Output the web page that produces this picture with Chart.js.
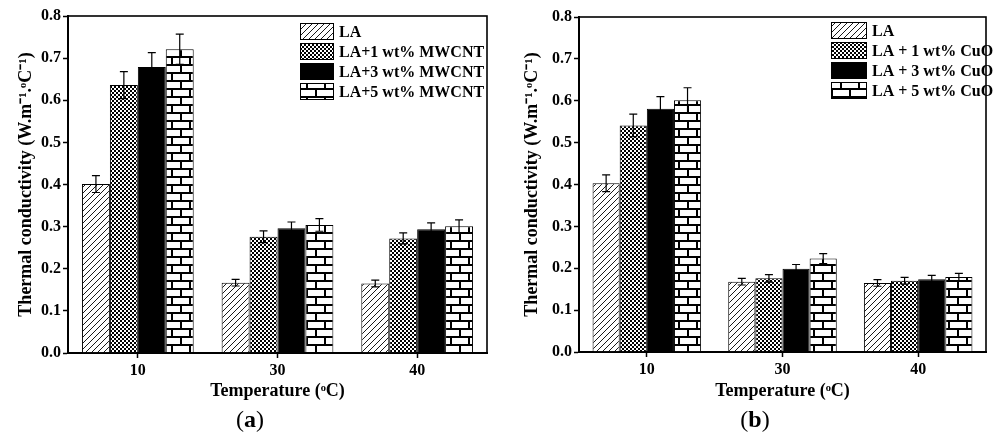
<!DOCTYPE html>
<html>
<head>
<meta charset="utf-8">
<title>Thermal conductivity</title>
<script src="https://cdn.jsdelivr.net/npm/chart.js@4"></script>
<style>
    body { margin: 0; background: #fff; }
    #wrap { position: relative; width: 997px; height: 438px; }
    .panel { position: absolute; top: 0; }
    .cap { position: absolute; top: 406px; width: 100px; text-align: center;
           font-family: "Liberation Serif", serif; font-size: 24px; color: #000; }
</style>
</head>
<body>
<div id="wrap">
    <div class="panel" style="left:0"><canvas id="chartA" width="498" height="410"></canvas></div>
    <div class="panel" style="left:498px"><canvas id="chartB" width="499" height="410"></canvas></div>
    <div class="cap" style="left:200px">(<b>a</b>)</div>
    <div class="cap" style="left:705px">(<b>b</b>)</div>
</div>
<script>
// categories and tick labels
const temperatures = ["10", "30", "40"];
const yTickValues = [0.0, 0.1, 0.2, 0.3, 0.4, 0.5, 0.6, 0.7, 0.8];

// panel (a) - MWCNT
const namesA = ["LA", "LA+1 wt% MWCNT", "LA+3 wt% MWCNT", "LA+5 wt% MWCNT"];
const laA = [0.401, 0.167, 0.165];
const laErrA = [0.020, 0.008, 0.008];
const mwcnt1 = [0.636, 0.276, 0.272];
const mwcnt1Err = [0.032, 0.014, 0.013];
const mwcnt3 = [0.679, 0.296, 0.294];
const mwcnt3Err = [0.034, 0.015, 0.015];
const mwcnt5 = [0.721, 0.304, 0.301];
const mwcnt5Err = [0.036, 0.015, 0.015];

// panel (b) - CuO
const namesB = ["LA", "LA + 1 wt% CuO", "LA + 3 wt% CuO", "LA + 5 wt% CuO"];
const laB = [0.403, 0.168, 0.165];
const laErrB = [0.020, 0.008, 0.008];
const cuo1 = [0.541, 0.176, 0.170];
const cuo1Err = [0.027, 0.009, 0.008];
const cuo3 = [0.581, 0.199, 0.174];
const cuo3Err = [0.029, 0.010, 0.009];
const cuo5 = [0.601, 0.223, 0.179];
const cuo5Err = [0.030, 0.012, 0.009];

const FONT = "'Liberation Serif', 'Times New Roman', serif";

// small tiles used as bar fills
function makeTile(w, h, draw)
{
    const c = document.createElement("canvas");
    c.width = w;
    c.height = h;
    const g = c.getContext("2d");
    g.fillStyle = "#fff";
    g.fillRect(0, 0, w, h);
    draw(g);
    return c;
}

function makePatterns(ctx)
{
    const hatch = makeTile(6, 6, (g) => {
        g.strokeStyle = "#000";
        g.lineWidth = 0.9;
        g.beginPath();
        g.moveTo(0, 6); g.lineTo(6, 0);
        g.moveTo(-1, 1); g.lineTo(1, -1);
        g.moveTo(5, 7); g.lineTo(7, 5);
        g.stroke();
    });
    const checker = makeTile(4, 4, (g) => {
        g.fillStyle = "#000";
        g.fillRect(0, 0, 2, 2);
        g.fillRect(2, 2, 2, 2);
    });
    const brick = makeTile(18, 16, (g) => {
        g.fillStyle = "#000";
        g.fillRect(0, 0, 18, 2);
        g.fillRect(0, 8, 18, 2);
        g.fillRect(0, 0, 2, 8);
        g.fillRect(9, 8, 2, 8);
    });
    return [
        ctx.createPattern(hatch, "repeat"),
        ctx.createPattern(checker, "repeat"),
        "#000",
        ctx.createPattern(brick, "repeat"),
    ];
}

// vertical error bars with caps, placed through the y scale
const errorBarPlugin = {
    id: "errorBars",
    afterDatasetsDraw(chart)
    {
        const ctx = chart.ctx;
        const yScale = chart.scales.y;
        ctx.save();
        ctx.strokeStyle = "#000";
        ctx.lineWidth = 1.2;
        chart.data.datasets.forEach((ds, i) => {
            const meta = chart.getDatasetMeta(i);
            meta.data.forEach((bar, j) => {
                const v = ds.data[j];
                const e = ds.errors[j];
                const top = yScale.getPixelForValue(v + e);
                const bot = yScale.getPixelForValue(v - e);
                const x = bar.x;
                ctx.beginPath();
                ctx.moveTo(x, top); ctx.lineTo(x, bot);
                ctx.moveTo(x - 4, top); ctx.lineTo(x + 4, top);
                ctx.moveTo(x - 4, bot); ctx.lineTo(x + 4, bot);
                ctx.stroke();
            });
        });
        ctx.restore();
    }
};

// box around the plot area
const framePlugin = {
    id: "frame",
    afterDraw(chart)
    {
        const a = chart.chartArea;
        const ctx = chart.ctx;
        ctx.save();
        ctx.strokeStyle = "#000";
        ctx.lineWidth = 1.6;
        ctx.strokeRect(a.left, a.top, a.right - a.left, a.bottom - a.top);
        ctx.restore();
    }
};

// legend stacked inside the plot, top right
const boxLegendPlugin = {
    id: "boxLegend",
    afterDraw(chart, args, opts)
    {
        const ctx = chart.ctx;
        ctx.save();
        ctx.font = "bold 16px " + FONT;
        ctx.textBaseline = "middle";
        ctx.fillStyle = "#000";
        chart.data.datasets.forEach((ds, i) => {
            const y = opts.y + i * opts.step;
            ctx.fillStyle = ds.backgroundColor;
            ctx.fillRect(opts.x, y, opts.boxW, opts.boxH);
            ctx.strokeStyle = "#000";
            ctx.lineWidth = 1;
            ctx.strokeRect(opts.x + 0.5, y + 0.5, opts.boxW - 1, opts.boxH - 1);
            ctx.fillStyle = "#000";
            ctx.fillText(ds.label, opts.x + opts.boxW + 5, y + opts.boxH / 2 + 1);
        });
        ctx.restore();
    }
};

function buildChart(canvasId, names, series, errors, layout)
{
    const ctx = document.getElementById(canvasId).getContext("2d");
    const fills = makePatterns(ctx);

    const datasets = series.map((values, i) => ({
        label: names[i],
        data: values,
        errors: errors[i],
        backgroundColor: fills[i],
        borderColor: "#000",
        borderWidth: 1,
        categoryPercentage: 0.8,
        barPercentage: 1.0,
    }));

    return new Chart(ctx, {
        type: "bar",
        data: { labels: temperatures, datasets: datasets },
        plugins: [errorBarPlugin, framePlugin, boxLegendPlugin],
        options: {
            responsive: false,
            animation: false,
            layout: { padding: { left: 0, right: 11, top: layout.top, bottom: 0 } },
            plugins: {
                legend: { display: false },
                tooltip: { enabled: false },
                boxLegend: layout.legend,
            },
            scales: {
                x: {
                    afterFit(scale) { scale.height = 410 - layout.bottom; },
                    ticks: { color: "#000", padding: 3, font: { family: FONT, size: 16, weight: "bold" } },
                    grid: { offset: false, drawOnChartArea: false, tickLength: 5, tickWidth: 1.5, tickColor: "#000" },
                    border: { display: true, color: "#000", width: 2 },
                    title: {
                        display: true,
                        text: "Temperature (ᵒC)",
                        color: "#000",
                        font: { family: FONT, size: 18, weight: "bold" },
                        padding: { top: 0, bottom: 8 },
                    },
                },
                y: {
                    min: 0,
                    max: 0.8,
                    afterBuildTicks(scale) { scale.ticks = yTickValues.map((v) => ({ value: v })); },
                    afterFit(scale) { scale.width = layout.yWidth; },
                    ticks: {
                        color: "#000",
                        padding: 2,
                        font: { family: FONT, size: 16, weight: "bold" },
                        callback: (v) => Number(v).toFixed(1),
                    },
                    grid: { drawOnChartArea: false, tickLength: 5, tickWidth: 1.5, tickColor: "#000" },
                    border: { display: true, color: "#000", width: 2 },
                    title: {
                        display: true,
                        text: "Thermal conductivity (W.m⁻¹.ᵒC⁻¹)",
                        color: "#000",
                        font: { family: FONT, size: 18, weight: "bold" },
                        padding: { top: layout.titleGap, bottom: 0 },
                    },
                },
            },
        },
    });
}

buildChart("chartA", namesA,
    [laA, mwcnt1, mwcnt3, mwcnt5],
    [laErrA, mwcnt1Err, mwcnt3Err, mwcnt5Err],
    { top: 16, bottom: 353, yWidth: 68, titleGap: 16,
      legend: { x: 300, y: 23, step: 20, boxW: 34, boxH: 17 } });

buildChart("chartB", namesB,
    [laB, cuo1, cuo3, cuo5],
    [laErrB, cuo1Err, cuo3Err, cuo5Err],
    { top: 17, bottom: 352, yWidth: 81, titleGap: 24,
      legend: { x: 333, y: 22, step: 20, boxW: 36, boxH: 17 } });
</script>
</body>
</html>
